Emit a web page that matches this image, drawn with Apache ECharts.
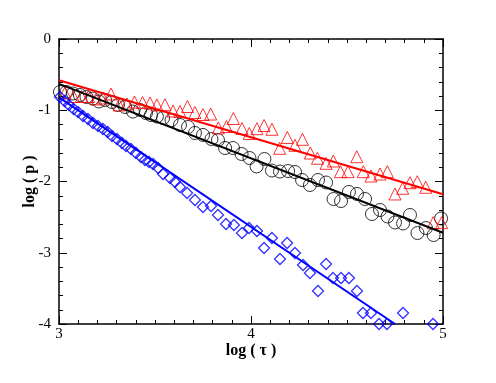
<!DOCTYPE html>
<html>
<head>
<meta charset="utf-8">
<script src="https://cdn.jsdelivr.net/npm/echarts@6/dist/echarts.min.js"></script>
<style>
  html, body { margin: 0; padding: 0; background: #fff; }
  #chart { width: 496px; height: 383px; }
</style>
</head>
<body>
<div id="chart"></div>
<script>
// circles (black)
const blackX = [3.005, 3.039, 3.073, 3.109, 3.143, 3.177, 3.208, 3.240, 3.276, 3.307, 3.344, 3.385, 3.422, 3.453, 3.479, 3.510, 3.542, 3.586, 3.630, 3.672, 3.708, 3.750, 3.794, 3.828, 3.865, 3.906, 3.951, 3.992, 4.029, 4.070, 4.109, 4.151, 4.193, 4.229, 4.266, 4.307, 4.349, 4.391, 4.430, 4.469, 4.510, 4.552, 4.594, 4.630, 4.672, 4.711, 4.750, 4.792, 4.828, 4.867, 4.911, 4.951, 4.990]
const blackY = [-0.744, -0.744, -0.765, -0.786, -0.814, -0.835, -0.877, -0.856, -0.884, -0.926, -0.954, -1.018, -0.996, -1.039, -1.067, -1.088, -1.109, -1.137, -1.207, -1.235, -1.319, -1.347, -1.404, -1.418, -1.530, -1.530, -1.614, -1.670, -1.789, -1.684, -1.846, -1.860, -1.853, -1.867, -1.979, -2.049, -1.979, -2.014, -2.246, -2.274, -2.147, -2.175, -2.246, -2.456, -2.400, -2.491, -2.575, -2.589, -2.470, -2.723, -2.653, -2.751, -2.519]

// triangles (red)
const redX = [3.031, 3.076, 3.117, 3.154, 3.193, 3.229, 3.271, 3.313, 3.354, 3.393, 3.435, 3.474, 3.510, 3.552, 3.594, 3.630, 3.669, 3.708, 3.750, 3.790, 3.830, 3.872, 3.908, 3.953, 3.991, 4.031, 4.068, 4.109, 4.149, 4.189, 4.229, 4.268, 4.309, 4.346, 4.391, 4.429, 4.466, 4.505, 4.551, 4.585, 4.625, 4.672, 4.710, 4.750, 4.790, 4.828, 4.866, 4.910, 4.949, 4.993]
const redY = [-0.758, -0.807, -0.807, -0.807, -0.842, -0.828, -0.772, -0.926, -0.912, -0.884, -0.891, -0.898, -0.926, -0.922, -1.011, -1.018, -0.947, -1.032, -1.060, -1.053, -1.249, -1.228, -1.116, -1.256, -1.326, -1.259, -1.214, -1.267, -1.534, -1.382, -1.492, -1.408, -1.600, -1.674, -1.745, -1.712, -1.862, -1.862, -1.652, -1.862, -1.923, -1.895, -1.862, -2.175, -2.095, -2.017, -2.003, -2.081, -2.578, -2.578]

// diamonds (blue)
const blueX = [3.005, 3.029, 3.052, 3.076, 3.099, 3.125, 3.151, 3.177, 3.203, 3.229, 3.253, 3.276, 3.302, 3.328, 3.349, 3.375, 3.401, 3.427, 3.448, 3.469, 3.490, 3.516, 3.542, 3.578, 3.604, 3.630, 3.667, 3.708, 3.750, 3.792, 3.828, 3.870, 3.911, 3.953, 3.990, 4.031, 4.068, 4.109, 4.151, 4.188, 4.229, 4.271, 4.307, 4.349, 4.391, 4.427, 4.469, 4.510, 4.552, 4.583, 4.625, 4.667, 4.708, 4.792, 4.948]
const blueY = [-0.814, -0.870, -0.926, -0.982, -1.025, -1.081, -1.123, -1.179, -1.221, -1.263, -1.305, -1.361, -1.404, -1.460, -1.502, -1.544, -1.600, -1.656, -1.698, -1.726, -1.754, -1.811, -1.895, -1.951, -2.007, -2.077, -2.161, -2.260, -2.358, -2.344, -2.470, -2.596, -2.611, -2.723, -2.653, -2.695, -2.933, -2.793, -3.088, -2.863, -3.004, -3.172, -3.284, -3.537, -3.158, -3.354, -3.354, -3.354, -3.537, -3.846, -3.846, -4.0, -4.0, -3.846, -4.0]

// fitted lines (end points)
const blackFitX = [3, 5]
const blackFitY = [-0.63, -2.72]
const redFitX = [3, 5]
const redFitY = [-0.58, -2.18]
const blueFitX = [3, 4.75]
const blueFitY = [-0.82, -4.0]

const xTicks = ['3', '4', '5']
const yTicks = ['0', '-1', '-2', '-3', '-4']

const zip = (xs, ys) => xs.map((x, i) => [x, ys[i]])

const serif = 'Liberation Serif'

const baseX = {
  type: 'value',
  min: 3,
  max: 5,
  interval: 1,
  axisLine: { show: true, onZero: false, lineStyle: { color: '#000', width: 1.5 } },
  axisTick: { show: true, inside: true, length: 8, lineStyle: { color: '#000' } },
  minorTick: { show: true, splitNumber: 10, length: 4, lineStyle: { color: '#000' } },
  splitLine: { show: false }
}

const baseY = {
  type: 'value',
  min: -4,
  max: 0,
  interval: 1,
  axisLine: { show: true, onZero: false, lineStyle: { color: '#000', width: 1.5 } },
  axisTick: { show: true, inside: true, length: 8, lineStyle: { color: '#000' } },
  minorTick: { show: true, splitNumber: 5, length: 4, lineStyle: { color: '#000' } },
  splitLine: { show: false }
}

const chart = echarts.init(document.getElementById('chart'), null, { renderer: 'canvas' })

const hollow = (color, w) => ({ color: 'rgba(0,0,0,0)', borderColor: color, borderWidth: w })

chart.setOption({
  animation: false,
  backgroundColor: '#fff',
  grid: { left: 59, right: 53, top: 39, bottom: 59 },
  xAxis: [
    {
      ...baseX,
      position: 'bottom',
      name: 'log ( τ )',
      nameLocation: 'middle',
      nameGap: 19,
      nameMoveOverlap: false,
      nameTextStyle: { fontFamily: serif, fontSize: 16, fontWeight: 'bold', color: '#000' },
      axisLabel: {
        show: true,
        margin: 3,
        fontFamily: serif,
        fontSize: 15,
        color: '#000',
        formatter: (v) => xTicks[Math.round(v) - 3]
      }
    },
    { ...baseX, position: 'top', axisLabel: { show: false } }
  ],
  yAxis: [
    {
      ...baseY,
      position: 'left',
      name: 'log ( p )',
      nameLocation: 'middle',
      nameGap: 21,
      nameRotate: 90,
      nameMoveOverlap: false,
      nameTextStyle: { fontFamily: serif, fontSize: 16, fontWeight: 'bold', color: '#000' },
      axisLabel: {
        show: true,
        margin: 8,
        fontFamily: serif,
        fontSize: 15,
        color: '#000',
        formatter: (v) => yTicks[-Math.round(v)]
      }
    },
    { ...baseY, position: 'right', axisLabel: { show: false } }
  ],
  series: [
    {
      type: 'scatter',
      data: zip(blackX, blackY),
      symbol: 'circle',
      symbolSize: 13,
      itemStyle: hollow('#000', 1),
      clip: false,
      silent: true
    },
    {
      type: 'scatter',
      data: zip(redX, redY),
      symbol: 'triangle',
      symbolSize: 12,
      itemStyle: hollow('#ff0000', 1),
      clip: false,
      silent: true
    },
    {
      type: 'scatter',
      data: zip(blueX, blueY),
      symbol: 'diamond',
      symbolSize: 11,
      itemStyle: hollow('#0000ff', 1.3),
      clip: false,
      silent: true
    },
    {
      type: 'line',
      data: zip(blackFitX, blackFitY),
      symbol: 'none',
      lineStyle: { color: '#000', width: 2 },
      silent: true
    },
    {
      type: 'line',
      data: zip(redFitX, redFitY),
      symbol: 'none',
      lineStyle: { color: '#ff0000', width: 2 },
      silent: true
    },
    {
      type: 'line',
      data: zip(blueFitX, blueFitY),
      symbol: 'none',
      lineStyle: { color: '#0000ff', width: 2 },
      silent: true
    }
  ]
})
</script>
</body>
</html>
